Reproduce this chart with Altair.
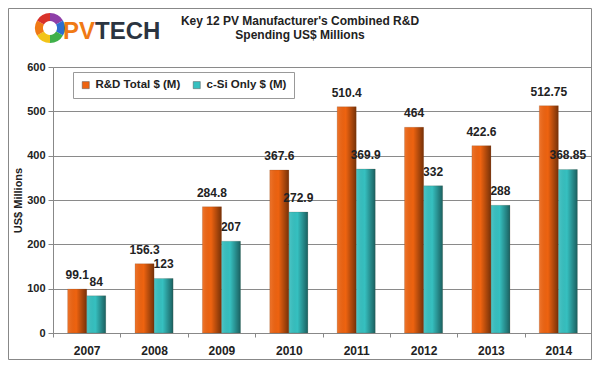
import altair as alt
import pandas as pd

years = ["2007", "2008", "2009", "2010", "2011", "2012", "2013", "2014"]
rd_total = [99.1, 156.3, 284.8, 367.6, 510.4, 464, 422.6, 512.75]
csi_only = [84, 123, 207, 272.9, 369.9, 332, 288, 368.85]
rd_labels = ["99.1", "156.3", "284.8", "367.6", "510.4", "464", "422.6", "512.75"]
csi_labels = ["84", "123", "207", "272.9", "369.9", "332", "288", "368.85"]
series_names = ["R&D Total $ (M)", "c-Si Only $ (M)"]
series_colors = ["#EE6310", "#36C0C0"]
title_lines = ["Key 12 PV Manufacturer's Combined R&D", "Spending US$ Millions"]
logo_colors = ["#8E3FA8", "#2E6FD0", "#3FB04A", "#F2C418", "#F07A14", "#D9322B"]
logo_parts = [1, 1, 1, 1, 1, 1]

rows = []
for i, y in enumerate(years):
    rows.append({"year": y, "series": series_names[0], "value": rd_total[i], "label": rd_labels[i]})
    rows.append({"year": y, "series": series_names[1], "value": csi_only[i], "label": csi_labels[i]})
df = pd.DataFrame(rows)

FONT = "Liberation Sans"

x_enc = alt.X("year:N", sort=years,
              scale=alt.Scale(paddingInner=0, paddingOuter=0),
              axis=alt.Axis(title=None, labelAngle=0, labelFont=FONT, labelFontWeight="bold",
                            labelFontSize=12, labelColor="#222222", labelPadding=8,
                            tickBand="extent", domainColor="#888888", tickColor="#888888",
                            tickSize=4, grid=False))
xo_enc = alt.XOffset("series:N", sort=series_names,
                     scale=alt.Scale(paddingInner=0, paddingOuter=0.77))
y_enc = alt.Y("value:Q", scale=alt.Scale(domain=[0, 600]),
              axis=alt.Axis(title="US$ Millions", values=[0, 100, 200, 300, 400, 500, 600],
                            labelFont=FONT, labelFontWeight="bold", labelFontSize=11,
                            labelColor="#222222", titleFont=FONT, titleFontWeight="bold",
                            titleFontSize=11, titleColor="#222222", titlePadding=3,
                            domainColor="#888888", tickColor="#888888", tickSize=5,
                            gridColor="#8a8a8a", gridWidth=1, labelPadding=3))

base = alt.Chart(df)

bars = base.mark_bar().encode(
    x=x_enc, xOffset=xo_enc, y=y_enc,
    color=alt.Color("series:N", sort=series_names,
                    scale=alt.Scale(domain=series_names, range=series_colors),
                    legend=alt.Legend(title=None, orient="none", direction="horizontal",
                                      legendX=20, legendY=5, fillColor="white",
                                      strokeColor="#999999", padding=7,
                                      symbolType="square", symbolSize=50,
                                      symbolStrokeColor="#555555", symbolStrokeWidth=0.5,
                                      labelFont=FONT, labelFontWeight="bold",
                                      labelFontSize=11.5, labelColor="#222222",
                                      labelOffset=4, columnPadding=10, labelLimit=200)),
)

shade = base.mark_bar(
    fill=alt.Gradient(gradient="linear",
                      stops=[alt.GradientStop(offset=0, color="rgba(255,255,255,0.12)"),
                             alt.GradientStop(offset=0.45, color="rgba(0,0,0,0)"),
                             alt.GradientStop(offset=1, color="rgba(0,0,0,0.5)")],
                      x1=0, x2=1, y1=0, y2=0),
    stroke="#5a3a20", strokeWidth=0.3, strokeOpacity=0.6,
).encode(x=x_enc, xOffset=xo_enc, y=y_enc)

labels = base.mark_text(font=FONT, fontWeight="bold", fontSize=12, color="#222222",
                        baseline="bottom", dy=-7).encode(
    x=x_enc, xOffset=xo_enc, y=y_enc, text="label:N")

frame = alt.Chart(pd.DataFrame({"k": [0]})).mark_rect(
    filled=False, stroke="#888888", strokeWidth=1).encode(
    x=alt.value(-44.5), x2=alt.value(538.5), y=alt.value(-58.5), y2=alt.value(292.5))

logo_df = pd.DataFrame({"part": list(range(len(logo_parts))), "v": logo_parts, "c": logo_colors})
ring = alt.Chart(logo_df).mark_arc(radius=15, radius2=7).encode(
    theta=alt.Theta("v:Q", stack=True),
    order=alt.Order("part:Q"),
    fill=alt.Fill("c:N", scale=None),
    x=alt.value(-3), y=alt.value(-39))

pv = alt.Chart(pd.DataFrame({"t": ["PV"]})).mark_text(
    font=FONT, fontWeight="bold", fontSize=24, color="#F07A14", align="left",
    baseline="middle").encode(text="t:N", x=alt.value(10), y=alt.value(-35))
tech = alt.Chart(pd.DataFrame({"t": ["TECH"]})).mark_text(
    font=FONT, fontWeight="bold", fontSize=24, color="#2B3440", align="left",
    baseline="middle").encode(text="t:N", x=alt.value(42), y=alt.value(-35))

title_df = pd.DataFrame({"t": title_lines, "yy": [-46, -32]})
title = alt.Chart(title_df).mark_text(
    font=FONT, fontWeight="bold", fontSize=12, color="#222222", align="center",
    baseline="middle").encode(text="t:N", x=alt.value(247), y=alt.Y("yy:Q", scale=None))

chart = alt.layer(frame, bars, shade, labels, ring, pv, tech, title).properties(
    width=539, height=266,
    autosize=alt.AutoSizeParams(type="none"),
    padding={"left": 45, "top": 59, "right": 0, "bottom": 27},
).configure_view(stroke=None).configure(background="white")

chart.save("out.html", embed_options={"renderer": "svg", "actions": False})
